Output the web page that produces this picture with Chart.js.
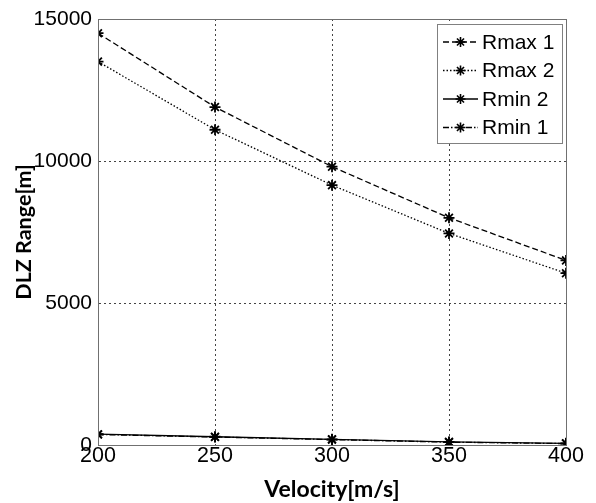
<!DOCTYPE html>
<html>
<head>
<meta charset="utf-8">
<script src="https://cdn.jsdelivr.net/npm/chart.js@4/dist/chart.umd.min.js"></script>
<style>
  html, body { margin: 0; padding: 0; background: #fff; }
  #wrap { width: 596px; height: 503px; }
</style>
</head>
<body>
<div id="wrap"><canvas id="dlz" width="596" height="503"></canvas></div>
<script>
// velocity [m/s] and DLZ ranges [m]
const velocity = [200, 250, 300, 350, 400];
const rmax1 = [14500, 11900, 9800, 8000, 6500];
const rmax2 = [13500, 11100, 9150, 7450, 6050];
const rmin2 = [380, 290, 200, 110, 60];
const rmin1 = [370, 280, 190, 100, 50];
const yTicks = [0, 5000, 10000, 15000];

const toPoints = (vals) => vals.map((v, i) => ({ x: velocity[i], y: v }));

const lineSet = (label, vals, dash) => ({
  label: label,
  data: toPoints(vals),
  borderColor: '#000',
  backgroundColor: '#000',
  borderWidth: 1.3,
  borderDash: dash,
  pointStyle: 'star',
  pointRadius: 5.5,
  pointBorderWidth: 1.8,
  pointBorderColor: '#000',
  tension: 0,
});

// box around the plot + legend drawn inside the upper right corner
const framePlugin = {
  id: 'frame',
  afterDraw(chart) {
    const { ctx, chartArea: a } = chart;
    ctx.save();
    ctx.strokeStyle = '#707070';
    ctx.lineWidth = 1;
    ctx.setLineDash([]);
    ctx.strokeRect(a.left + 0.5, a.top + 0.5, a.right - a.left, a.bottom - a.top);

    // legend
    const bx = a.right - 129, by = a.top + 5, bw = 125, bh = 119;
    ctx.fillStyle = '#fff';
    ctx.fillRect(bx, by, bw, bh);
    ctx.strokeStyle = '#808080';
    ctx.strokeRect(bx + 0.5, by + 0.5, bw, bh);
    ctx.font = '21px "Liberation Sans", Arial, sans-serif';
    ctx.textBaseline = 'middle';
    ctx.fillStyle = '#000';
    chart.data.datasets.forEach((ds, i) => {
      const y = by + 18 + i * 28.5;
      const x0 = bx + 6, x1 = bx + 41;
      ctx.strokeStyle = '#000';
      ctx.lineWidth = 1.3;
      ctx.setLineDash(ds.borderDash || []);
      ctx.beginPath();
      ctx.moveTo(x0, y);
      ctx.lineTo(x1, y);
      ctx.stroke();
      ctx.setLineDash([]);
      ctx.lineWidth = 1.6;
      Chart.helpers.drawPoint(ctx, { pointStyle: 'star', radius: 5, borderWidth: 1.6 }, (x0 + x1) / 2, y);
      ctx.fillText(ds.label, x1 + 4, y + 1);
    });
    ctx.restore();
  }
};

new Chart(document.getElementById('dlz').getContext('2d'), {
  type: 'line',
  data: {
    datasets: [
      lineSet('Rmax 1', rmax1, [6, 3]),
      lineSet('Rmax 2', rmax2, [1.5, 2]),
      lineSet('Rmin 2', rmin2, []),
      lineSet('Rmin 1', rmin1, [6, 2, 1.5, 2]),
    ],
  },
  options: {
    responsive: false,
    animation: false,
    layout: { padding: { top: 19, right: 30, left: 0, bottom: 0 } },
    plugins: {
      legend: { display: false },
      tooltip: { enabled: false },
    },
    scales: {
      x: {
        type: 'linear',
        min: 200,
        max: 400,
        afterFit: (s) => { s.height = 58; },
        ticks: {
          stepSize: 50,
          padding: 0,
          color: '#000',
          font: { family: '"Liberation Sans", Arial, sans-serif', size: 21.5, lineHeight: 1 },
        },
        grid: {
          color: '#444',
          lineWidth: 1,
          drawTicks: false,
        },
        border: { display: true, color: '#707070', dash: [2, 3] },
        title: {
          display: true,
          text: 'Velocity[m/s]',
          color: '#000',
          padding: { top: 0, bottom: 0 },
          font: { family: 'Lato, "Open Sans", sans-serif', size: 23, weight: 'bold' },
        },
      },
      y: {
        min: 0,
        max: 15000,
        afterFit: (s) => { s.width = 98; },
        afterBuildTicks: (s) => { s.ticks = yTicks.map((v) => ({ value: v })); },
        ticks: {
          padding: 6,
          color: '#000',
          callback: (v) => String(v),
          font: { family: '"Liberation Sans", Arial, sans-serif', size: 21 },
        },
        grid: {
          color: '#444',
          lineWidth: 1,
          drawTicks: false,
        },
        border: { display: true, color: '#707070', dash: [2, 3] },
        title: {
          display: true,
          text: 'DLZ Range[m]',
          color: '#000',
          padding: { top: 11, bottom: 0 },
          font: { family: 'Lato, "Open Sans", sans-serif', size: 21.5, weight: 'bold' },
        },
      },
    },
  },
  plugins: [framePlugin],
});
</script>
</body>
</html>
